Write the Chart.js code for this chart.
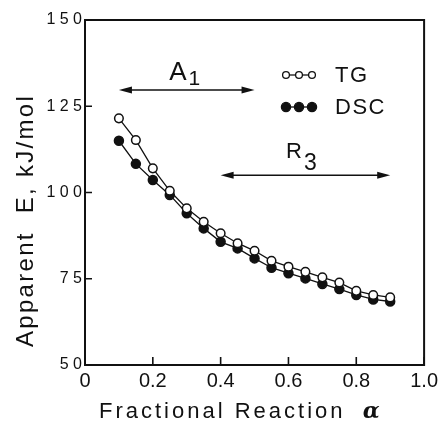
<!DOCTYPE html>
<html lang="en">
<head>
  <meta charset="UTF-8" />
  <title>Apparent E vs fractional reaction</title>
  <script src="https://cdn.jsdelivr.net/npm/chart.js"></script>
  <style>
    body { margin: 0; background: #fff; }
    #wrap { width: 442px; height: 433px; }
  </style>
</head>
<body>
  <div id="wrap"><canvas id="grafico"></canvas></div>

  <script>
    const alpha = [0.10, 0.15, 0.20, 0.25, 0.30, 0.35, 0.40, 0.45, 0.50, 0.55, 0.60, 0.65, 0.70, 0.75, 0.80, 0.85, 0.90];
    const tgE   = [121.5, 115.2, 107.0, 100.5, 95.4, 91.5, 88.2, 85.3, 83.1, 80.2, 78.5, 77.0, 75.4, 73.9, 71.5, 70.3, 69.6];
    const dscE  = [115.0, 108.3, 103.6, 99.3, 94.0, 89.6, 85.7, 83.8, 80.9, 78.2, 76.6, 75.1, 73.5, 72.0, 70.3, 69.0, 68.4];

    const xTicks = [0, 0.2, 0.4, 0.6, 0.8, 1.0];
    const yTicks = [50, 75, 100, 125, 150];

    // mechanism ranges shown by the double arrows
    const regionNames = ['A', 'R'];
    const regionSubs  = ['1', '3'];
    const regionFrom  = [0.10, 0.40];
    const regionTo    = [0.50, 0.90];
    const regionE     = [129.7, 105];

    const seriesNames = ['TG', 'DSC'];

    const ink = '#111';
    const sans = '"Liberation Sans", Arial, sans-serif';

    function toPoints(ys) {
      return alpha.map((a, i) => ({ x: a, y: ys[i] }));
    }

    function arrowHead(ctx, x, y, dir) {
      ctx.beginPath();
      ctx.moveTo(x, y);
      ctx.lineTo(x - dir * 13, y - 3.5);
      ctx.lineTo(x - dir * 13, y + 3.5);
      ctx.closePath();
      ctx.fill();
    }

    const extras = {
      id: 'extras',
      afterDraw(chart) {
        const { ctx, chartArea: a, scales: { x, y } } = chart;
        ctx.save();
        ctx.strokeStyle = ink;
        ctx.fillStyle = ink;

        // frame
        ctx.lineWidth = 2;
        ctx.strokeRect(a.left, a.top, a.right - a.left, a.bottom - a.top);

        // ticks pointing inward
        ctx.lineWidth = 1.6;
        ctx.beginPath();
        xTicks.forEach(v => {
          const px = x.getPixelForValue(v);
          ctx.moveTo(px, a.bottom);
          ctx.lineTo(px, a.bottom - 8);
        });
        yTicks.forEach(v => {
          const py = y.getPixelForValue(v);
          ctx.moveTo(a.left, py);
          ctx.lineTo(a.left + 7, py);
        });
        ctx.stroke();

        // double arrows + labels (label style per arrow)
        const look = [
          { size: 26, sub: 21, up: 10, subUp: 5, shift: -2 },
          { size: 22, sub: 23, up: 17, subUp: 5, shift: -4 }
        ];
        ctx.lineWidth = 1.5;
        ctx.textAlign = 'left';
        ctx.textBaseline = 'alphabetic';
        regionNames.forEach((n, i) => {
          const x1 = x.getPixelForValue(regionFrom[i]);
          const x2 = x.getPixelForValue(regionTo[i]);
          const py = y.getPixelForValue(regionE[i]);
          ctx.beginPath();
          ctx.moveTo(x1 + 6, py);
          ctx.lineTo(x2 - 6, py);
          ctx.stroke();
          arrowHead(ctx, x1, py, -1);
          arrowHead(ctx, x2, py, 1);

          const s = look[i];
          ctx.font = s.size + 'px ' + sans;
          const w = ctx.measureText(n).width;
          ctx.font = s.sub + 'px ' + sans;
          const ws = ctx.measureText(regionSubs[i]).width;
          const sx = (x1 + x2) / 2 - (w + ws + 2) / 2 + s.shift;
          ctx.font = s.size + 'px ' + sans;
          ctx.fillText(n, sx, py - s.up);
          ctx.font = s.sub + 'px ' + sans;
          ctx.fillText(regionSubs[i], sx + w + 2, py - s.subUp);
        });

        // legend
        const lx = a.left + 201, ly = [a.top + 55, a.top + 87];
        ctx.font = '22px ' + sans;
        ctx.textBaseline = 'middle';
        ctx.letterSpacing = '1.5px';
        seriesNames.forEach((n, i) => {
          ctx.lineWidth = 1.3;
          ctx.beginPath();
          ctx.moveTo(lx, ly[i]);
          ctx.lineTo(lx + 26, ly[i]);
          ctx.stroke();
          [0, 13, 26].forEach(dx => {
            ctx.beginPath();
            ctx.arc(lx + dx, ly[i], i === 0 ? 3.4 : 4.6, 0, Math.PI * 2);
            ctx.fillStyle = i === 0 ? '#fff' : ink;
            ctx.fill();
            ctx.stroke();
          });
          ctx.fillStyle = ink;
          ctx.fillText(n, lx + 49, ly[i] + 1);
        });

        // axis titles
        ctx.letterSpacing = '3px';
        ctx.textAlign = 'left';
        ctx.textBaseline = 'alphabetic';
        ctx.font = '22px ' + sans;
        ctx.fillText('Fractional Reaction ', 99, 418);
        const fw = ctx.measureText('Fractional Reaction ').width;
        ctx.font = 'italic bold 22px "DejaVu Serif", serif';
        ctx.fillText('\u03b1', 99 + fw + 8, 418);

        ctx.translate(33, 347);
        ctx.rotate(-Math.PI / 2);
        ctx.font = '24px ' + sans;
        ctx.letterSpacing = '2.3px';
        ctx.fillText('Apparent  E, kJ/mol', 0, 0);
        ctx.restore();
      }
    };

    new Chart(document.getElementById('grafico'), {
      type: 'scatter',
      data: {
        datasets: [
          {
            label: seriesNames[0],
            data: toPoints(tgE),
            showLine: true,
            borderColor: ink,
            borderWidth: 1.3,
            pointRadius: 4.3,
            pointBackgroundColor: '#fff',
            pointBorderColor: ink,
            pointBorderWidth: 1.5
          },
          {
            label: seriesNames[1],
            data: toPoints(dscE),
            showLine: true,
            borderColor: ink,
            borderWidth: 1.3,
            pointRadius: 4.5,
            pointBackgroundColor: ink,
            pointBorderColor: ink,
            pointBorderWidth: 1.5
          }
        ]
      },
      options: {
        responsive: true,
        maintainAspectRatio: false,
        animation: false,
        events: [],
        layout: { padding: { top: 20, right: 15, left: 0, bottom: 0 } },
        plugins: { legend: { display: false }, tooltip: { enabled: false } },
        scales: {
          x: {
            type: 'linear',
            min: 0,
            max: 1,
            afterBuildTicks: s => { s.ticks = xTicks.map(v => ({ value: v })); },
            afterFit: s => { s.height = 68; },
            grid: { display: false, drawTicks: false },
            border: { display: false },
            ticks: {
              color: ink,
              padding: 4,
              maxRotation: 0,
              font: { family: sans, size: 20 },
              callback: v => v === 0 ? '0' : v.toFixed(1)
            }
          },
          y: {
            type: 'linear',
            min: 50,
            max: 150,
            afterBuildTicks: s => { s.ticks = yTicks.map(v => ({ value: v })); },
            afterFit: s => { s.width = 85; },
            grid: { display: false, drawTicks: false },
            border: { display: false },
            ticks: {
              color: ink,
              padding: 3,
              font: { family: sans, size: 16 },
              callback: v => String(v).split('').join(' ')
            }
          }
        }
      },
      plugins: [extras]
    });
  </script>
</body>
</html>
